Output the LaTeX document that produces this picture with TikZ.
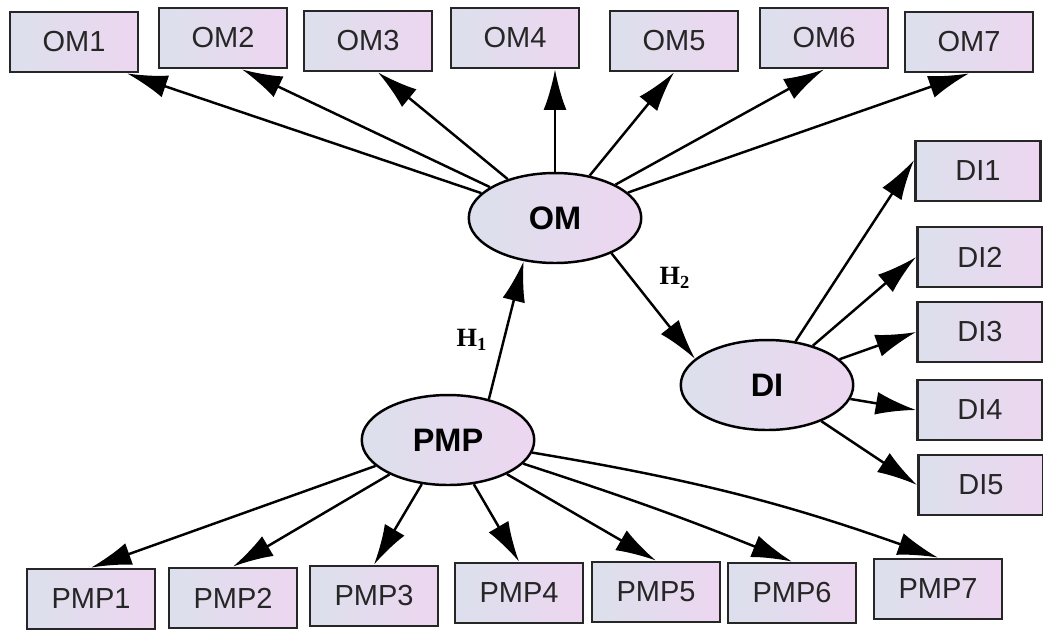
\documentclass[tikz,border=0pt]{standalone}
\usepackage{fontspec}
\setmainfont{Liberation Sans}
\newfontfamily\hfont{Liberation Serif}
\usetikzlibrary{shapes.geometric}
\usetikzlibrary{arrows.meta}
\definecolor{shadel}{HTML}{DCE0EC}
\definecolor{shader}{HTML}{EDD6F0}
\tikzset{
    mybox/.style = {rectangle, line width=1.6pt, draw=black!85, align=center, left color=shadel, right color=shader, minimum width=2.56cm, minimum height=1.2cm, inner sep=0pt, font=\fontsize{16.5}{18}\selectfont, text=black!85},
    mydibox/.style = {mybox, minimum width=2.5cm},
    myell/.style = {ellipse, line width=1.4pt, draw=black, align=center, left color=shadel, right color=shader, minimum width=3.45cm, minimum height=1.8cm, inner sep=0pt, font=\fontsize{18.5}{20}\selectfont\bfseries, text=black},
    hlab/.style = {font=\hfont\fontsize{15}{17}\selectfont\bfseries, text=black},
    edgea/.style = {-{Latex[length=23pt,width=13pt]}, line width=1.4pt, black}
}

\begin{document}
\begin{tikzpicture}[x=0.02cm, y=-0.02cm]
\useasboundingbox (0,0) rectangle (1043,630);

% latent variables
\node[myell] at (555, 218) (OM) {OM};
\node[myell] at (767, 385) (DI) {DI};
\node[myell] at (448, 440) (PMP) {PMP};

% top indicators
\node[mybox] at ( 74,  42) (OM1) {OM1};
\node[mybox] at (223,  38) (OM2) {OM2};
\node[mybox] at (368,  41) (OM3) {OM3};
\node[mybox] at (515,  38) (OM4) {OM4};
\node[mybox] at (674,  41) (OM5) {OM5};
\node[mybox] at (824,  38) (OM6) {OM6};
\node[mybox] at (969,  42) (OM7) {OM7};

% right indicators
\node[mydibox] at (978, 171) (DI1) {DI1};
\node[mydibox] at (980, 257) (DI2) {DI2};
\node[mydibox] at (980, 332) (DI3) {DI3};
\node[mydibox] at (980, 410) (DI4) {DI4};
\node[mydibox] at (981, 485) (DI5) {DI5};

% bottom indicators
\node[mybox] at ( 91, 599) (PMP1) {PMP1};
\node[mybox] at (233, 598) (PMP2) {PMP2};
\node[mybox] at (374, 596) (PMP3) {PMP3};
\node[mybox] at (519, 593) (PMP4) {PMP4};
\node[mybox] at (656, 592) (PMP5) {PMP5};
\node[mybox] at (792, 593) (PMP6) {PMP6};
\node[mybox] at (938, 589) (PMP7) {PMP7};

% hypothesis labels
\node[hlab] at (472, 340) (H1) {H\textsubscript{1}};
\node[hlab] at (675, 278) (H2) {H\textsubscript{2}};

\draw[edgea] (OM) -- ([xshift=1.06cm]OM1.south);
\draw[edgea] (OM) -- ([xshift=0.38cm]OM2.south);
\draw[edgea] (OM) -- ([xshift=0.2cm]OM3.south);
\draw[edgea] (OM.north) -- (OM.north |- OM4.south);
\draw[edgea] (OM) -- (OM5.south);
\draw[edgea] (OM) -- (OM6.south);
\draw[edgea] (OM) -- (OM7.south);

\draw[edgea] (DI) -- ([yshift=0.22cm]DI1.west);
\draw[edgea] (DI) -- (DI2.west);
\draw[edgea] (DI) -- (DI3.west);
\draw[edgea] (DI) -- (DI4.west);
\draw[edgea] (DI) -- (DI5.west);

\draw[edgea] (PMP) -- (PMP1.north);
\draw[edgea] (PMP) -- (PMP2.north);
\draw[edgea] (PMP) -- (PMP3.north);
\draw[edgea] (PMP) -- (PMP4.north);
\draw[edgea] (PMP) -- (PMP5.north);
\draw[edgea] (PMP) to[bend left=2] (PMP6.north);
\draw[edgea] (PMP) to[bend left=5] (PMP7.north);

\draw[edgea] (PMP.45) -- (OM.234);
\draw[edgea] (OM.-32) -- (DI.160);

\end{tikzpicture}
\end{document}
